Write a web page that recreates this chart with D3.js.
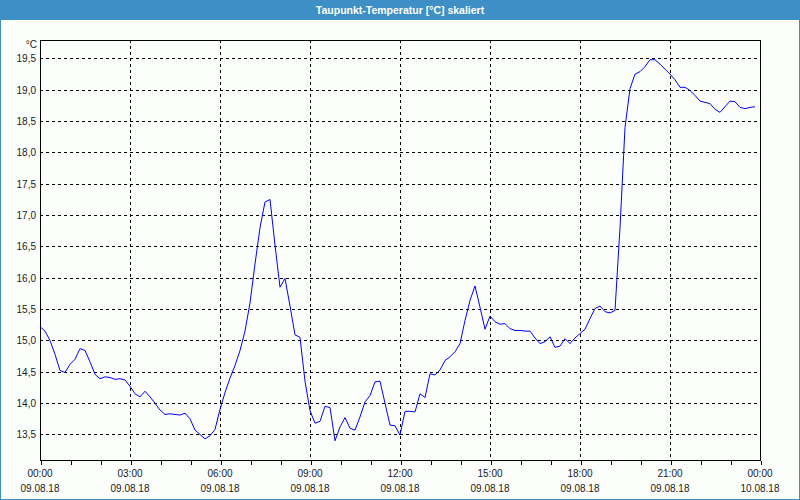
<!DOCTYPE html>
<html>
<head>
<meta charset="utf-8">
<script src="https://cdn.jsdelivr.net/npm/d3@7"></script>
<style>
  html, body { margin: 0; padding: 0; background: #fcfefc; }
  svg { display: block; }
  text { font-family: "Liberation Sans", Arial, sans-serif; }
</style>
</head>
<body>
<svg id="chart" width="800" height="500"></svg>
<script>
// ---- data ----
const title = "Taupunkt-Temperatur [°C] skaliert";
const unitLabel = "°C";
const startTime = "2018-08-09T00:00:00";
const endTime = "2018-08-10T00:00:00";
const sampleMinutes = 10;
const values = [
  15.22, 15.15, 15.00, 14.78, 14.52, 14.49, 14.62, 14.70, 14.87, 14.84, 14.66, 14.46,
  14.39, 14.42, 14.41, 14.38, 14.39, 14.37, 14.27, 14.15, 14.10, 14.19, 14.10, 14.00,
  13.89, 13.82, 13.83, 13.82, 13.81, 13.84, 13.75, 13.57, 13.50, 13.43, 13.48, 13.58,
  13.90, 14.17, 14.40, 14.60, 14.84, 15.15, 15.60, 16.22, 16.80, 17.21, 17.25, 16.52,
  15.85, 15.99, 15.55, 15.09, 15.05, 14.35, 13.88, 13.68, 13.71, 13.95, 13.93, 13.40,
  13.62, 13.77, 13.60, 13.57, 13.78, 14.02, 14.12, 14.34, 14.35, 14.00, 13.65, 13.64,
  13.49, 13.87, 13.87, 13.86, 14.15, 14.09, 14.47, 14.45, 14.53, 14.68, 14.74, 14.82,
  14.95, 15.32, 15.64, 15.87, 15.53, 15.18, 15.39, 15.30, 15.26, 15.27, 15.19, 15.16,
  15.16, 15.15, 15.15, 15.04, 14.95, 14.98, 15.06, 14.89, 14.91, 15.03, 14.95, 15.04,
  15.11, 15.18, 15.35, 15.51, 15.55, 15.46, 15.44, 15.48, 16.80, 18.40, 19.02, 19.25,
  19.29, 19.37, 19.48, 19.48, 19.41, 19.33, 19.25, 19.16, 19.04, 19.04, 18.99, 18.91,
  18.82, 18.80, 18.78, 18.69, 18.64, 18.73, 18.82, 18.81, 18.72, 18.70, 18.72, 18.73
];
const yDomain = [13.093, 19.795];
const yTicks = [13.5, 14.0, 14.5, 15.0, 15.5, 16.0, 16.5, 17.0, 17.5, 18.0, 18.5, 19.0, 19.5];
const xTickTimes = ["00:00", "03:00", "06:00", "09:00", "12:00", "15:00", "18:00", "21:00", "00:00"];
const xTickDates = ["09.08.18", "09.08.18", "09.08.18", "09.08.18", "09.08.18", "09.08.18", "09.08.18", "09.08.18", "10.08.18"];

// ---- layout ----
const W = 800, H = 500;
const m = { left: 40, right: 40, top: 40, bottom: 40 };
const svg = d3.select("#chart");

const t0 = new Date(startTime), t1 = new Date(endTime);
const points = values.map((v, i) => ({ t: new Date(t0.getTime() + i * sampleMinutes * 60000), v }));

const x = d3.scaleTime().domain([t0, t1]).range([m.left, W - m.right]);
const y = d3.scaleLinear().domain(yDomain).range([H - m.bottom, m.top]);
const px = v => Math.round(v) + 0.5;

// frame / title bar
svg.append("rect").attr("x", 0).attr("y", 0).attr("width", W).attr("height", H).attr("fill", "#fcfefc");
svg.append("rect").attr("x", 0).attr("y", 0).attr("width", W).attr("height", 20).attr("fill", "#3d8fc6");
svg.append("rect").attr("x", 0.5).attr("y", 0.5).attr("width", W - 1).attr("height", H - 1)
  .attr("fill", "none").attr("stroke", "#3d8fc6").attr("stroke-width", 1);
svg.append("text").attr("x", W / 2).attr("y", 14).attr("text-anchor", "middle")
  .attr("fill", "#ffffff").attr("font-size", "10.5px").attr("font-weight", "bold").text(title);

// grid
const g = svg.append("g");
const hourTicks = d3.timeHour.every(1).range(t0, new Date(t1.getTime() + 1));
const majorTicks = d3.timeHour.every(3).range(t0, new Date(t1.getTime() + 1));

g.selectAll("line.hgrid").data(yTicks).join("line")
  .attr("x1", m.left).attr("x2", W - m.right)
  .attr("y1", d => px(y(d))).attr("y2", d => px(y(d)))
  .attr("stroke", "#000").attr("stroke-dasharray", "3,3").attr("shape-rendering", "crispEdges");

g.selectAll("line.vgrid").data(majorTicks.slice(1, -1)).join("line")
  .attr("y1", m.top).attr("y2", H - m.bottom)
  .attr("x1", d => px(x(d))).attr("x2", d => px(x(d)))
  .attr("stroke", "#000").attr("stroke-dasharray", "3,3").attr("shape-rendering", "crispEdges");

// plot frame
svg.append("rect").attr("x", m.left + 0.5).attr("y", m.top + 0.5)
  .attr("width", W - m.left - m.right - 1 + 1).attr("height", H - m.top - m.bottom)
  .attr("fill", "none").attr("stroke", "#000").attr("shape-rendering", "crispEdges");

// x axis
const xAxis = d3.axisBottom(x).tickValues(hourTicks).tickSize(4).tickFormat("");
const xa = svg.append("g").attr("transform", `translate(0.5,${H - m.bottom + 0.5})`).call(xAxis);
xa.select(".domain").remove();
xa.selectAll("line").attr("stroke", "#000").attr("shape-rendering", "crispEdges");

const labG = svg.append("g").attr("font-size", "10px").attr("fill", "#1a1a1a");
labG.selectAll("text.tt").data(majorTicks).join("text")
  .attr("x", d => x(d)).attr("y", 477).attr("text-anchor", "middle")
  .text((d, i) => xTickTimes[i]);
labG.selectAll("text.td").data(majorTicks).join("text")
  .attr("x", d => x(d)).attr("y", 492).attr("text-anchor", "middle")
  .text((d, i) => xTickDates[i]);

// y axis labels
const fmt = d => d3.format(".1f")(d).replace(".", ",");
labG.selectAll("text.yl").data(yTicks).join("text")
  .attr("x", 36).attr("y", d => px(y(d)) + 3.5).attr("text-anchor", "end")
  .text(fmt);
labG.append("text").attr("x", 37).attr("y", 48).attr("text-anchor", "end").text(unitLabel);

// line
const line = d3.line().x(d => x(d.t)).y(d => y(d.v));
svg.append("path").datum(points).attr("d", line)
  .attr("fill", "none").attr("stroke", "#0000ff").attr("stroke-width", 1);
</script>
</body>
</html>
